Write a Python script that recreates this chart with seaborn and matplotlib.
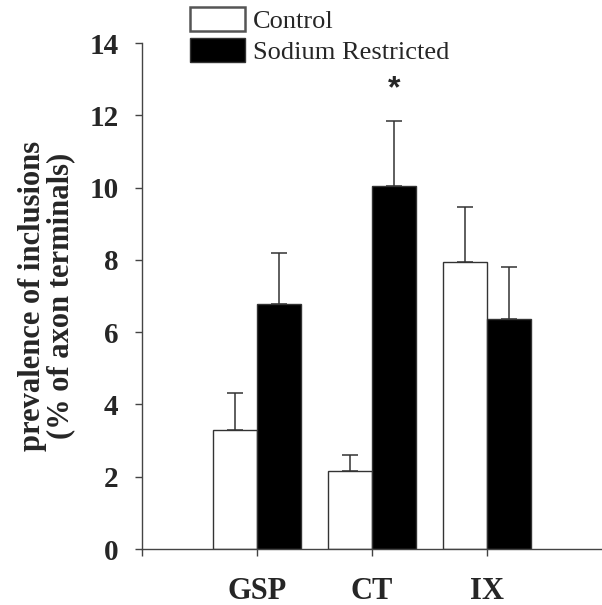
import numpy as np
import pandas as pd
import matplotlib
matplotlib.use("Agg")
import matplotlib.pyplot as plt
import seaborn as sns

# ---------- DATA ----------
NERVES = ["GSP", "CT", "IX"]
GROUPS = ["Control", "Sodium Restricted"]
CONTROL_MEAN = [3.3, 2.15, 7.93]
CONTROL_SEM = [1.03, 0.45, 1.52]
SODIUM_MEAN = [6.77, 10.05, 6.35]
SODIUM_SEM = [1.41, 1.80, 1.44]
SIG_MARK = "*"   # over CT, sodium restricted

df = pd.DataFrame({
    "nerve": NERVES * 2,
    "group": [GROUPS[0]] * 3 + [GROUPS[1]] * 3,
    "value": CONTROL_MEAN + SODIUM_MEAN,
    "sem": CONTROL_SEM + SODIUM_SEM,
})

sns.set_style("ticks")
plt.rcParams["font.family"] = ["Liberation Serif", "DejaVu Serif"]

fig = plt.figure(figsize=(6.02, 6.05), dpi=100)
ax = fig.add_axes([142 / 602, 1 - 549 / 605, 1 - 142 / 602, (549 - 43) / 605])

sns.barplot(data=df, x="nerve", y="value", hue="group", order=NERVES,
            hue_order=GROUPS, palette={"Control": "white", "Sodium Restricted": "black"},
            width=0.77, errorbar=None, edgecolor="#333333", linewidth=1.0, ax=ax)

# upper-only error bars, placed on the bar centres
for grp, cont in zip(GROUPS, ax.containers):
    sub = df[df.group == grp].set_index("nerve").loc[NERVES]
    xs = [p.get_x() + p.get_width() / 2 for p in cont.patches]
    ax.errorbar(xs, sub["value"], yerr=[np.zeros(len(xs)), sub["sem"]], fmt="none",
                ecolor="#333333", elinewidth=1.1, capsize=5.5, capthick=1.1, zorder=3)

# significance asterisk above CT sodium restricted bar
ct_sr = ax.containers[1].patches[NERVES.index("CT")]
ax.text(ct_sr.get_x() + ct_sr.get_width() / 2, 12.72, SIG_MARK, ha="center", va="center",
        fontsize=23, fontweight="bold", family=["Liberation Sans"])

ax.set_xlim(-1, 3)
ax.set_ylim(0, 14)
ax.set_yticks(np.arange(0, 15, 2))
ax.set_xticks([-1] + list(range(len(NERVES))), [""] + NERVES)

for s in ["top", "right"]:
    ax.spines[s].set_visible(False)
for s in ["left", "bottom"]:
    ax.spines[s].set_color("#444444")
    ax.spines[s].set_linewidth(1.0)

ax.tick_params(axis="y", direction="out", length=5, width=1.0, color="#444444",
               pad=12, labelsize=21)
ax.tick_params(axis="x", direction="out", length=5, width=1.0, color="#444444",
               pad=15, labelsize=22)
for lab in ax.get_yticklabels() + ax.get_xticklabels():
    lab.set_fontweight("bold")

ax.set_xlabel("")
ax.set_ylabel("prevalence of inclusions\n(% of axon terminals)", fontsize=22,
              fontweight="bold", linespacing=0.95, labelpad=10)

handles, labels = ax.get_legend_handles_labels()
ax.legend(handles, labels, loc="upper left", bbox_to_anchor=(190 / 602, 1 - 7 / 605),
          bbox_transform=fig.transFigure, frameon=False, fontsize=19,
          handlelength=2.1, handleheight=1.0, handletextpad=0.3,
          labelspacing=0.2, borderpad=0, borderaxespad=0)
leg = ax.get_legend()
leg.legend_handles[0].set_edgecolor("#555555")
leg.legend_handles[0].set_linewidth(1.8)

fig.savefig("out.png", dpi=100)
